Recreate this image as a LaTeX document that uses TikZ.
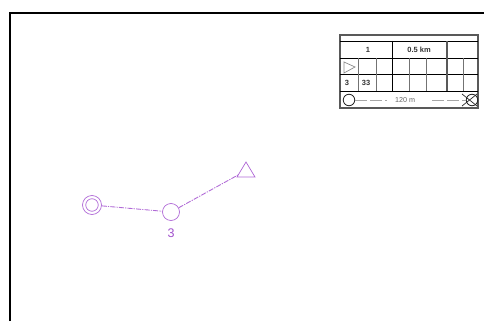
\documentclass[tikz,border=0pt]{standalone}
\usepackage{fontspec}
\setmainfont{Liberation Sans}
\usetikzlibrary{shapes.geometric}
\definecolor{sym}{HTML}{B06AD6}
\definecolor{symtxt}{HTML}{A050CC}
\tikzset{
  x=1pt,y=-1pt,
  frameline/.style={black,line width=1.5pt},
  grid/.style={black!80,line width=0.6pt},
  gridthick/.style={black,line width=1pt},
  gridgrey/.style={black!65,line width=1.1pt},
  cell/.style={inner sep=0pt,font=\fontsize{7.5}{8}\selectfont\bfseries,text=black!80},
  cellthin/.style={inner sep=0pt,font=\fontsize{7.2}{8}\selectfont,text=black!60},
  pt/.style={circle,draw=sym,line width=0.7pt,inner sep=0pt,minimum size=17pt},
  tri/.style={draw=sym,line width=0.7pt},
  leg/.style={sym,line width=0.9pt,dash pattern=on 5pt off 1.2pt on 1.2pt off 1.2pt},
  boxsym/.style={circle,draw=black!85,line width=0.8pt,inner sep=0pt,minimum size=11.5pt},
}
\begin{document}
\begin{tikzpicture}
\useasboundingbox (0,0) rectangle (484,321);
% frame
\coordinate (fa) at (10,321);
\coordinate (fb) at (10,13);
\coordinate (fc) at (484,13);
\draw[frameline] (fa) -- (fb) -- (fc);
% symbols
\node[pt,minimum size=19pt] (start) at (92,205) {};
\node[pt,minimum size=12.5pt] (starti) at (92,205) {};
\node[pt] (mid) at (171,212) {};
\coordinate (ta) at (246,162);
\coordinate (tb) at (237,177);
\coordinate (tc) at (255,177);
\draw[tri] (ta) -- (tc) -- (tb) -- cycle;
\coordinate (tend) at (238,175);
\draw[leg] (start) -- (mid);
\draw[leg] (mid) -- (tend);
\node[inner sep=0pt,font=\fontsize{12.5}{14}\selectfont,text=symtxt] (lab) at (171,233) {3};
% table
\coordinate (tl) at (340,35);
\coordinate (br) at (478,108);
\draw[gridgrey,fill=white] (tl) rectangle (br);
\foreach \y in {41,58,74,91} \draw[gridthick,line width=0.8pt] (340,\y) -- (478,\y);
\draw[gridthick] (392,41) -- (392,91);
\draw[gridgrey,line width=1.2pt] (447,41) -- (447,91);
\foreach \x in {358,376,409,426,463} \draw[grid,black!55] (\x,58) -- (\x,91);
\node[cell] (c1) at (368,50) {1};
\node[cell] (c2) at (419,50) {0.5 km};
\draw[black!45,line width=0.7pt] (344,62) -- (355,67) -- (344,73) -- cycle;
\node[cell] (c3) at (347,83) {3};
\node[cell] (c4) at (366,83) {33};
\node[boxsym] (ba) at (349,100) {};
\node[boxsym] (bb) at (472,100) {};
\node[cellthin] (blab) at (405,100) {120 m};
\coordinate (da) at (387,100);
\coordinate (db) at (432,100);
\draw[black!35,line width=0.6pt,dash pattern=on 12pt off 3pt] (ba) -- (da);
\draw[black!35,line width=0.6pt,dash pattern=on 12pt off 3pt] (db) -- (bb);
\coordinate (xa) at (462,94);
\coordinate (xb) at (477,106);
\coordinate (xc) at (462,106);
\coordinate (xd) at (477,94);
\draw[black!85,line width=0.7pt] (xa) -- (xb);
\draw[black!85,line width=0.7pt] (xc) -- (xd);
\end{tikzpicture}
\end{document}
